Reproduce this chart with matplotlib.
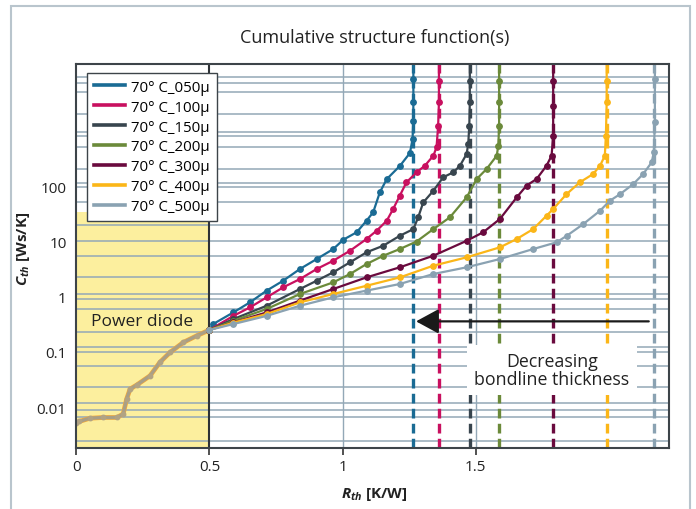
import matplotlib
matplotlib.use('Agg')
import matplotlib.pyplot as plt
from matplotlib.patches import Rectangle
from matplotlib.lines import Line2D
import numpy as np

plt.rcParams['font.family'] = ['Open Sans', 'DejaVu Sans']
plt.rcParams['mathtext.fontset'] = 'custom'
plt.rcParams['mathtext.it'] = 'Open Sans:italic:bold'
plt.rcParams['mathtext.rm'] = 'Open Sans:bold'
plt.rcParams['lines.scale_dashes'] = False

# ---------------- data ----------------
labels = ['70° C_050µ', '70° C_100µ', '70° C_150µ', '70° C_200µ',
          '70° C_300µ', '70° C_400µ', '70° C_500µ']
colors = ['#1a6b94', '#c8105f', '#38454e', '#6b8a3a', '#6a0a3e', '#fbb618', '#8aa2b2']

# common part (power diode)
diode_r = [0, 0.011, 0.051, 0.101, 0.152, 0.176, 0.189, 0.202, 0.227, 0.277, 0.314, 0.352, 0.402, 0.452, 0.5]
diode_c = [0.0052, 0.0055, 0.0063, 0.0065, 0.0065, 0.0075, 0.014, 0.0213, 0.0252, 0.037, 0.065, 0.098, 0.149, 0.196, 0.25]

r_050 = [0.5, 0.514, 0.59, 0.652, 0.715, 0.777, 0.84, 0.903, 0.965, 1.003, 1.053, 1.09, 1.115, 1.14, 1.166, 1.216, 1.253, 1.263, 1.2655, 1.266, 1.266, 1.266]
c_050 = [0.25, 0.32, 0.52, 0.79, 1.29, 1.95, 3.18, 4.82, 7.3, 10.8, 14.7, 23.8, 33.8, 77.8, 135, 236, 401, 720, 1540, 3300, 8700, 20000]

r_100 = [0.5, 0.59, 0.652, 0.715, 0.777, 0.84, 0.903, 0.965, 1.028, 1.09, 1.128, 1.166, 1.19, 1.215, 1.24, 1.278, 1.309, 1.341, 1.353, 1.359, 1.362, 1.362, 1.362]
c_100 = [0.25, 0.45, 0.64, 0.975, 1.48, 2.09, 3.18, 4.49, 6.8, 11.1, 15.7, 23.8, 38.8, 67.6, 118, 179, 236, 358, 509, 1250, 3300, 8000, 20000]

r_150 = [0.5, 0.59, 0.715, 0.84, 0.903, 0.965, 1.028, 1.09, 1.153, 1.215, 1.266, 1.284, 1.303, 1.341, 1.378, 1.416, 1.441, 1.466, 1.472, 1.476, 1.478, 1.478, 1.478]
c_150 = [0.25, 0.394, 0.687, 1.38, 1.95, 2.77, 4.2, 6.37, 8.4, 12.7, 16.8, 27.4, 51, 83, 146, 179, 236, 385, 584, 1250, 3300, 8000, 20000]

r_200 = [0.5, 0.59, 0.715, 0.84, 0.965, 1.028, 1.09, 1.153, 1.215, 1.278, 1.341, 1.403, 1.466, 1.504, 1.541, 1.579, 1.585, 1.588, 1.588, 1.588, 1.588]
c_200 = [0.25, 0.367, 0.6, 1.12, 1.82, 2.58, 3.91, 5.53, 7.31, 10, 16.8, 27.4, 63, 136, 206, 358, 544, 1250, 3300, 8000, 20000]

r_300 = [0.5, 0.59, 0.715, 0.84, 0.965, 1.09, 1.215, 1.341, 1.466, 1.528, 1.591, 1.654, 1.691, 1.729, 1.766, 1.785, 1.791, 1.791, 1.791, 1.791]
c_300 = [0.25, 0.343, 0.52, 0.85, 1.38, 2.24, 3.41, 5.53, 10.3, 14.7, 25.6, 63, 103, 136, 236, 358, 826, 2900, 8000, 20000]

r_400 = [0.5, 0.59, 0.715, 0.84, 0.965, 1.09, 1.215, 1.341, 1.466, 1.591, 1.654, 1.716, 1.766, 1.791, 1.841, 1.891, 1.941, 1.967, 1.985, 1.989, 1.992, 1.992, 1.992]
c_400 = [0.25, 0.34, 0.486, 0.79, 1.12, 1.58, 2.24, 3.65, 5.17, 7.85, 11.1, 16.8, 29.3, 38.8, 72, 118, 167, 236, 358, 826, 3300, 8000, 20000]

r_500 = [0.5, 0.59, 0.715, 0.84, 0.965, 1.09, 1.215, 1.341, 1.466, 1.591, 1.716, 1.804, 1.842, 1.904, 1.967, 2.004, 2.042, 2.092, 2.129, 2.161, 2.169, 2.173, 2.173, 2.173]
c_500 = [0.25, 0.32, 0.45, 0.687, 0.975, 1.29, 1.7, 2.58, 3.41, 4.82, 7.31, 9.68, 12.7, 20.7, 36.1, 54.8, 72, 110, 167, 272, 413, 1445, 8700, 20000]

series_r = [r_050, r_100, r_150, r_200, r_300, r_400, r_500]
series_c = [c_050, c_100, c_150, c_200, c_300, c_400, c_500]

asymptote_r = [1.266, 1.362, 1.478, 1.587, 1.791, 1.993, 2.169]

grid_levels = [0.0024, 0.0065, 0.009, 0.012, 0.023, 0.056, 0.098, 0.121, 0.226, 0.6, 0.91,
               1.12, 2.24, 5.5, 10.3, 20, 51, 96, 113, 205, 509, 826, 975, 2040, 5040, 7430, 9440]

x_ticks = [0, 0.5, 1, 1.5]
x_ticklabels = ['0', '0.5', '1', '1.5']
y_ticks = [0.01, 0.1, 1, 10, 100]
y_ticklabels = ['0.01', '0.1', '1', '10', '100']

diode_zone = (0, 0.5, 34)
arrow_from, arrow_to, arrow_c = 2.15, 1.276, 0.358

# ---------------- figure ----------------
fig = plt.figure(figsize=(6.96, 5.10), dpi=100)
ax = fig.add_axes([0.1096, 0.1196, 0.8516, 0.7529])
ax.set_yscale('log')
ax.set_xlim(0, 2.226)
ax.set_ylim(0.00182, 16400)

# yellow zone
ax.fill_between([diode_zone[0], diode_zone[1]], 1e-4, diode_zone[2], color='#fcef9e', lw=0, zorder=0)

# grid
for v in grid_levels:
    ax.axhline(v, color='#93a8b7', lw=1.1, zorder=1)
for xv in [1, 1.5]:
    ax.axvline(xv, color='#93a8b7', lw=1.0, zorder=1)
ax.axvline(0.5, color='#2e3236', lw=1.5, zorder=2)

# dashed asymptotes
for xa, col in zip(asymptote_r, colors):
    ax.axvline(xa, color=col, lw=2.4, dashes=(7, 3.8), zorder=3)

# diode common curve
ax.plot(diode_r, diode_c, color='#f3a93a', lw=3.4, zorder=4, solid_capstyle='round')
ax.plot(diode_r, diode_c, color='#a99f86', lw=2.4, zorder=4, marker='o', ms=3.2,
        mfc='#b2a383', mec='#b2a383')

# series
for rr, cc, col in zip(series_r, series_c, colors):
    ax.plot(rr, cc, color=col, lw=1.6, marker='o', ms=3.9, mec=col, mfc=col, zorder=5)

# ticks
ax.set_xticks(x_ticks)
ax.set_xticklabels(x_ticklabels)
ax.set_yticks(y_ticks)
ax.set_yticklabels(y_ticklabels)
ax.yaxis.set_minor_locator(matplotlib.ticker.NullLocator())
ax.tick_params(axis='x', direction='out', length=5, width=1.2, color='#333333',
               labelsize=11, pad=3, labelcolor='#222222')
ax.tick_params(axis='y', length=0, labelsize=11, pad=7, labelcolor='#222222')

for s in ax.spines.values():
    s.set_color('#3d4449')
    s.set_linewidth(1.5)
    s.set_zorder(6)

ax.set_xlabel(r'$R_{th}$ [K/W]', fontsize=11, fontweight='bold', color='#222222')
ax.xaxis.set_label_coords(0.503, -0.097)
ax.set_ylabel(r'$C_{th}$ [Ws/K]', fontsize=11, fontweight='bold', color='#222222')
ax.yaxis.set_label_coords(-0.075, 0.52)

# legend
handles = [Line2D([0], [0], color=c, lw=2.6) for c in colors]
leg = ax.legend(handles, labels, loc='upper left', bbox_to_anchor=(0.018, 0.977),
                borderaxespad=0, fontsize=10.8, handlelength=2.1, handletextpad=0.4,
                labelspacing=0.33, frameon=True, fancybox=False, framealpha=1,
                edgecolor='#3d4449', borderpad=0.45)
leg.get_frame().set_linewidth(1.0)
leg.set_zorder(10)

# annotations
ax.text(0.247, 0.363, 'Power diode', fontsize=12.5, color='#222222', ha='center', va='center', zorder=7)
ax.annotate('', xy=(arrow_to, arrow_c), xytext=(arrow_from, arrow_c),
            arrowprops=dict(arrowstyle='-|>,head_length=0.7,head_width=0.38',
                            mutation_scale=20, color='#1a1a1a', lw=1.6, shrinkA=0, shrinkB=0),
            zorder=8)
ax.text(1.786, 0.047, 'Decreasing\nbondline thickness', fontsize=12.8, color='#222222',
        ha='center', va='center', linespacing=1.0, zorder=9,
        bbox=dict(boxstyle='square,pad=0.4', fc='white', ec='none'))

fig.text(0.539, 0.925, 'Cumulative structure function(s)', fontsize=13, ha='center',
         va='center', color='#222222')

fig.patches.append(Rectangle((11 / 696, -0.05), (690 - 11) / 696, 1.05 - 7 / 510,
                             transform=fig.transFigure, fill=False, ec='#b9c5cd', lw=1.5))

fig.savefig('out.png', dpi=100)
